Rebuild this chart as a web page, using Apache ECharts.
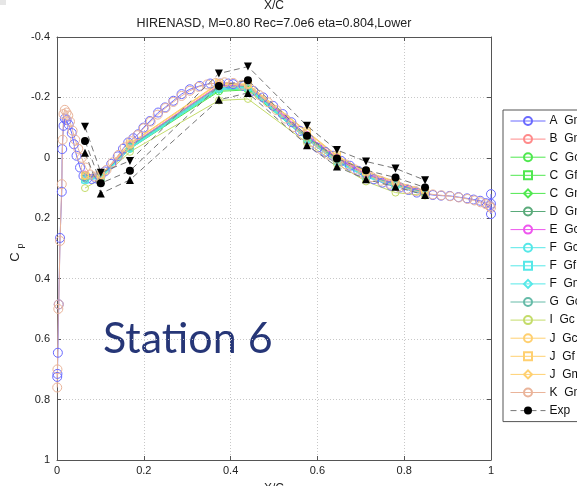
<!DOCTYPE html>
<html><head><meta charset="utf-8">
<script src="https://cdn.jsdelivr.net/npm/echarts@6/dist/echarts.min.js"></script>
<style>html,body{margin:0;padding:0;background:#fff;overflow:hidden}#c{width:577px;height:486px}</style>
</head><body><div id="c"></div><script>
// Chordwise pressure taps (x/c) shared by the sparse CFD results and the experiment
const stations = [0.0645, 0.101, 0.168, 0.373, 0.44, 0.576, 0.645, 0.712, 0.78, 0.848];

// Experiment: mean Cp and min/max envelope
const expMean = [-0.056, 0.084, 0.043, -0.238, -0.257, -0.073, 0.002, 0.041, 0.065, 0.098];
const expMin  = [-0.103, 0.049, 0.010, -0.279, -0.302, -0.106, -0.026, 0.012, 0.035, 0.074];
const expMax  = [-0.017, 0.118, 0.073, -0.192, -0.215, -0.042, 0.029, 0.071, 0.096, 0.123];

// CFD results sampled at the pressure taps
const bGm = [0.058, 0.060, -0.040, -0.240, -0.240, -0.075, 0.000, 0.052, 0.084, 0.112];
const cGc = [0.058, 0.062, -0.030, -0.220, -0.225, -0.062, 0.010, 0.062, 0.092, 0.118];
const cGf = [0.060, 0.064, -0.035, -0.228, -0.232, -0.066, 0.006, 0.058, 0.088, 0.115];
const cGm = [0.059, 0.063, -0.032, -0.224, -0.229, -0.064, 0.008, 0.060, 0.090, 0.116];
const dGm = [0.062, 0.060, -0.036, -0.232, -0.236, -0.070, 0.004, 0.056, 0.087, 0.114];
const eGc = [0.055, 0.058, -0.040, -0.238, -0.240, -0.075, 0.000, 0.053, 0.085, 0.112];
const fGc = [0.075, 0.066, -0.030, -0.226, -0.230, -0.060, 0.014, 0.064, 0.094, 0.120];
const fGf = [0.072, 0.064, -0.034, -0.232, -0.234, -0.064, 0.010, 0.060, 0.090, 0.117];
const fGm = [0.073, 0.065, -0.032, -0.229, -0.232, -0.062, 0.012, 0.062, 0.092, 0.118];
const gGc = [0.068, 0.062, -0.038, -0.236, -0.238, -0.070, 0.006, 0.057, 0.088, 0.115];
const iGc = [0.100, 0.070, -0.020, -0.190, -0.195, -0.050, 0.020, 0.078, 0.115, 0.125];
const jGc = [0.060, 0.058, -0.045, -0.245, -0.240, -0.085, -0.005, 0.048, 0.080, 0.110];
const jGf = [0.058, 0.056, -0.047, -0.248, -0.244, -0.088, -0.008, 0.045, 0.078, 0.108];
const jGm = [0.059, 0.057, -0.046, -0.246, -0.242, -0.086, -0.006, 0.047, 0.079, 0.109];

// Full surface distributions [x/c, Cp]
const aGm = [
  [0.0005,0.725],[0.001,0.715],[0.002,0.645],[0.004,0.485],[0.007,0.265],[0.011,0.112],
  [0.012,-0.029],[0.015,-0.106],[0.018,-0.130],[0.022,-0.125],[0.027,-0.110],[0.034,-0.082],
  [0.039,-0.045],[0.045,-0.007],[0.053,0.032],[0.061,0.060],[0.070,0.068],[0.080,0.070],
  [0.090,0.068],[0.100,0.062],[0.110,0.045],[0.125,0.020],[0.140,-0.005],[0.152,-0.030],
  [0.164,-0.051],[0.176,-0.065],[0.187,-0.078],[0.199,-0.100],[0.214,-0.122],[0.233,-0.150],
  [0.249,-0.167],[0.268,-0.189],[0.287,-0.211],[0.306,-0.227],[0.329,-0.238],[0.353,-0.246],
  [0.376,-0.246],[0.395,-0.246],[0.406,-0.244],[0.430,-0.238],[0.452,-0.222],[0.475,-0.200],
  [0.498,-0.172],[0.520,-0.145],[0.540,-0.118],[0.560,-0.089],[0.580,-0.062],[0.600,-0.034],
  [0.618,-0.020],[0.636,-0.007],[0.655,0.010],[0.675,0.026],[0.694,0.043],[0.713,0.060],
  [0.730,0.071],[0.750,0.082],[0.770,0.092],[0.790,0.098],[0.810,0.106],[0.829,0.115],
  [0.848,0.119],[0.866,0.123],[0.885,0.125],[0.905,0.126],[0.925,0.130],[0.945,0.134],
  [0.960,0.138],[0.975,0.142],[0.988,0.150],[0.998,0.159],[1.0,0.186],[1.0,0.152],[1.0,0.120]
];
const kGm = [
  [0.0005,0.760],[0.001,0.700],[0.003,0.500],[0.004,0.485],[0.007,0.275],[0.011,0.087],
  [0.013,-0.060],[0.015,-0.145],[0.018,-0.159],[0.022,-0.150],[0.026,-0.140],[0.030,-0.120],
  [0.036,-0.090],[0.042,-0.060],[0.049,-0.030],[0.057,0.000],[0.066,0.032],[0.076,0.055],
  [0.088,0.062],[0.100,0.058],[0.114,0.040],[0.128,0.015],[0.142,-0.010],[0.156,-0.035],
  [0.170,-0.055],[0.185,-0.075],[0.200,-0.098],[0.216,-0.120],[0.232,-0.143],[0.250,-0.165],
  [0.268,-0.185],[0.287,-0.205],[0.306,-0.222],[0.326,-0.235],[0.346,-0.243],[0.366,-0.248],
  [0.386,-0.250],[0.406,-0.248],[0.426,-0.242],[0.446,-0.228],[0.466,-0.208],[0.486,-0.184],
  [0.506,-0.158],[0.526,-0.130],[0.546,-0.102],[0.566,-0.076],[0.586,-0.052],[0.606,-0.030],
  [0.626,-0.010],[0.646,0.006],[0.666,0.022],[0.686,0.038],[0.706,0.052],[0.726,0.064],
  [0.746,0.076],[0.766,0.086],[0.786,0.095],[0.806,0.103],[0.826,0.110],[0.846,0.116],
  [0.866,0.121],[0.886,0.124],[0.906,0.127],[0.926,0.131],[0.946,0.136],[0.962,0.141],
  [0.976,0.147],[0.988,0.153],[0.997,0.160],[1.0,0.165]
];

const xTicks = [0, 0.2, 0.4, 0.6, 0.8, 1];
const yTicks = [-0.4, -0.2, 0, 0.2, 0.4, 0.6, 0.8, 1];

const FONT = '"Liberation Sans", Arial, Helvetica, sans-serif';
const zip = vals => stations.map((x, i) => [x, vals[i]]);
const CLEAR = 'rgba(255,255,255,0)';

function cfd(name, data, color, symbol, size) {
  return {
    name, type: 'line', data, symbol, symbolSize: size || 7, showSymbol: true,
    color, lineStyle: { color, width: 1 },
    itemStyle: { color: CLEAR, borderColor: color, borderWidth: 1 },
    emphasis: { disabled: true }, animation: false, z: 3
  };
}

const series = [
  cfd('A  Gm', aGm, '#6a6aff', 'circle', 9),
  cfd('B  Gm', zip(bGm), '#ff8a8a', 'circle'),
  cfd('C  Gc', zip(cGc), '#4fe84f', 'circle'),
  cfd('C  Gf', zip(cGf), '#4fe84f', 'rect'),
  cfd('C  Gm', zip(cGm), '#4fe84f', 'diamond'),
  cfd('D  Gm', zip(dGm), '#5aaa7a', 'circle'),
  cfd('E  Gc', zip(eGc), '#ee55ee', 'circle'),
  cfd('F  Gc', zip(fGc), '#55e8e8', 'circle'),
  cfd('F  Gf', zip(fGf), '#55e8e8', 'rect'),
  cfd('F  Gm', zip(fGm), '#55e8e8', 'diamond'),
  cfd('G  Gc', zip(gGc), '#66bba8', 'circle'),
  cfd('I  Gc', zip(iGc), '#c4dc6a', 'circle'),
  cfd('J  Gc', zip(jGc), '#ffd070', 'circle'),
  cfd('J  Gf', zip(jGf), '#ffd070', 'rect'),
  cfd('J  Gm', zip(jGm), '#ffd070', 'diamond'),
  cfd('K  Gm', kGm, '#eab49a', 'circle', 9),
  {
    name: 'Exp', type: 'line', data: zip(expMean), symbol: 'circle', symbolSize: 8,
    color: '#000', itemStyle: { color: '#000' },
    lineStyle: { color: '#777', width: 1, type: [6, 4] },
    emphasis: { disabled: true }, animation: false, z: 5
  },
  {
    name: 'Exp min', type: 'line', data: zip(expMin), symbol: 'triangle', symbolRotate: 180, symbolSize: 8,
    itemStyle: { color: '#000' }, lineStyle: { color: '#777', width: 1, type: [6, 4] },
    emphasis: { disabled: true }, animation: false, z: 5
  },
  {
    name: 'Exp max', type: 'line', data: zip(expMax), symbol: 'triangle', symbolSize: 8,
    itemStyle: { color: '#000' }, lineStyle: { color: '#777', width: 1, type: [6, 4] },
    emphasis: { disabled: true }, animation: false, z: 5
  }
];

const axisCommon = {
  type: 'value', interval: 0.2,
  axisLine: { show: true, onZero: false, lineStyle: { color: '#555', width: 1 } },
  axisTick: { show: true, inside: true, length: 4, lineStyle: { color: '#555' } },
  splitLine: { show: false },
  axisLabel: { show: false }
};
const gridLine = { show: true, lineStyle: { color: '#c8c8c8', type: [1, 2], width: 1 } };

const chart = echarts.init(document.getElementById('c'), null, { renderer: 'canvas' });
chart.setOption({
  backgroundColor: '#fff',
  animation: false,
  grid: { left: 57, right: 86, top: 37, bottom: 26, containLabel: false, outerBoundsMode: 'none' },
  xAxis: [
    Object.assign({}, axisCommon, {
      min: 0, max: 1, position: 'bottom', splitLine: gridLine,
      axisLabel: { show: true, margin: 5, fontFamily: FONT, fontSize: 11, color: '#222' },
      name: 'X/C', nameLocation: 'middle', nameGap: 23,
      nameTextStyle: { fontFamily: FONT, fontSize: 12, color: '#222' }
    }),
    Object.assign({}, axisCommon, { min: 0, max: 1, position: 'top' })
  ],
  yAxis: [
    Object.assign({}, axisCommon, {
      min: -0.4, max: 1, inverse: true, position: 'left', splitLine: gridLine,
      axisLabel: { show: true, margin: 7, fontFamily: FONT, fontSize: 11, color: '#222' }
    }),
    Object.assign({}, axisCommon, { min: -0.4, max: 1, inverse: true, position: 'right' })
  ],
  legend: {
    orient: 'vertical', left: 503, top: 110,
    data: series.slice(0, 17).map(s => s.name),
    backgroundColor: '#fff', borderColor: '#555', borderWidth: 1, borderRadius: 0,
    padding: [5, 40, 5, 7],
    itemWidth: 35, itemHeight: 10, itemGap: 6.1,
    lineStyle: { width: 1 },
    textStyle: { fontFamily: FONT, fontSize: 12, color: '#111', padding: [0, 0, 0, -1] },
    selectedMode: false
  },
  graphic: [
    { type: 'rect', left: 0, top: 0, shape: { width: 6, height: 5 }, style: { fill: '#e6e6e6' }, silent: true },
    { type: 'text', x: 274, y: 6, style: { text: 'X/C', fontFamily: FONT, fontSize: 12, fill: '#222',
        textAlign: 'center', textVerticalAlign: 'middle' } },
    { type: 'text', x: 274, y: 24, style: { text: 'HIRENASD, M=0.80 Rec=7.0e6 eta=0.804,Lower',
        fontFamily: FONT, fontSize: 12.5, fill: '#222', textAlign: 'center', textVerticalAlign: 'middle' } },
    { type: 'text', x: 15, y: 257, rotation: Math.PI / 2, style: { text: 'C', fontFamily: FONT, fontSize: 13,
        fill: '#222', textAlign: 'center', textVerticalAlign: 'middle' } },
    { type: 'text', x: 21, y: 246, rotation: Math.PI / 2, style: { text: 'p', fontFamily: FONT, fontSize: 9,
        fill: '#222', textAlign: 'center', textVerticalAlign: 'middle' } },
    { type: 'text', x: 103, y: 339, style: { text: 'Station 6', fontFamily: 'Lato, "Open Sans", sans-serif',
        fontSize: 43, fill: '#263677', textAlign: 'left', textVerticalAlign: 'middle' } }
  ],
  series
});
</script></body></html>
